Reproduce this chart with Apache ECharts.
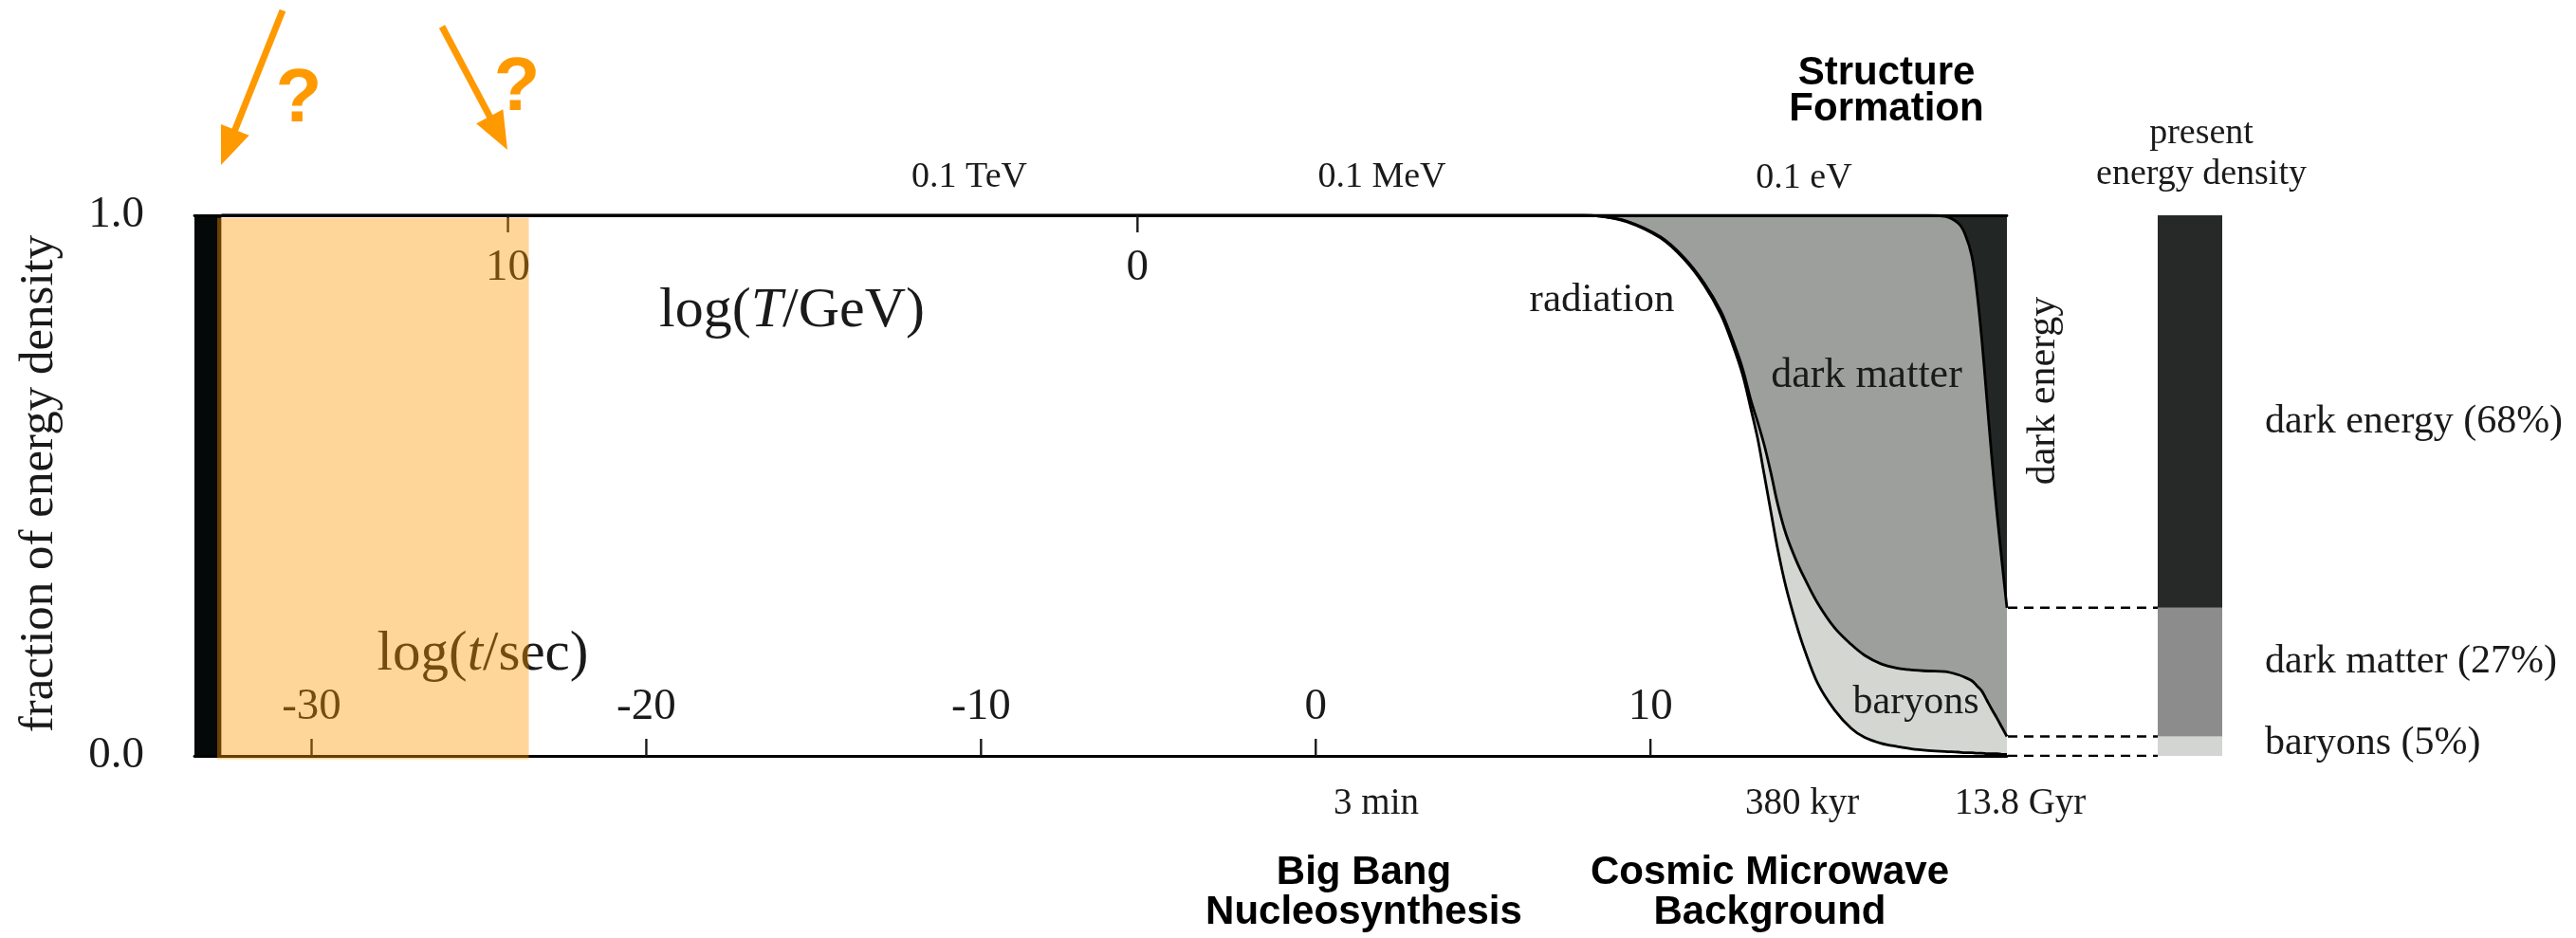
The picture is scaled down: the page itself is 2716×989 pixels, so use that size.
<!DOCTYPE html>
<html><head><meta charset="utf-8">
<script src="https://cdn.jsdelivr.net/npm/echarts@6/dist/echarts.min.js"></script>
<style>html,body{margin:0;padding:0;background:#fff}#c{width:2716px;height:989px}</style>
</head><body><div id="c"></div>
<script>
// ---- data ----
const logTime = [-32.69, 8.0, 8.4, 9.3, 10.3, 11.0, 11.6, 12.1, 12.45, 12.75, 13.0, 13.2, 13.4, 13.6, 13.8, 14.05, 14.35, 14.6, 15.0, 15.5, 16.0, 16.4, 16.9, 17.4, 17.8, 18.3, 18.8, 19.2, 19.4, 19.6, 19.75, 19.9, 20.05, 20.2, 20.35, 20.5, 20.65];
const radiation = [1, 1, 0.999, 0.988, 0.958, 0.919, 0.871, 0.817, 0.762, 0.706, 0.642, 0.588, 0.520, 0.451, 0.383, 0.312, 0.245, 0.197, 0.134, 0.085, 0.051, 0.034, 0.023, 0.017, 0.013, 0.010, 0.008, 0.007, 0.006, 0.006, 0.005, 0.005, 0.004, 0.004, 0.004, 0.003, 0.003];
const baryons = [0, 0, 0, 0.001, 0.002, 0.003, 0.004, 0.006, 0.008, 0.011, 0.016, 0.030, 0.055, 0.072, 0.083, 0.098, 0.117, 0.132, 0.148, 0.152, 0.155, 0.152, 0.147, 0.145, 0.146, 0.147, 0.148, 0.143, 0.139, 0.133, 0.125, 0.115, 0.099, 0.082, 0.066, 0.050, 0.033];
const darkMatter = [0, 0, 0.001, 0.011, 0.040, 0.078, 0.125, 0.177, 0.230, 0.283, 0.342, 0.382, 0.425, 0.477, 0.534, 0.590, 0.638, 0.671, 0.718, 0.763, 0.794, 0.814, 0.830, 0.838, 0.841, 0.843, 0.842, 0.835, 0.820, 0.786, 0.730, 0.650, 0.557, 0.464, 0.380, 0.307, 0.238];
const darkEnergy = [0, 0, 0, 0, 0, 0, 0, 0, 0, 0, 0, 0, 0, 0, 0, 0, 0, 0, 0, 0, 0, 0, 0, 0, 0, 0, 0.002, 0.015, 0.035, 0.075, 0.14, 0.23, 0.34, 0.45, 0.55, 0.64, 0.726];
const timeTicks = [-30, -20, -10, 0, 10];
const tempTicks = [10, 0];
const presentCategory = ['present'];
const presentBaryons = [0.036];
const presentDarkMatter = [0.238];
const presentDarkEnergy = [0.726];
const inflationEra = [-33.5, -32.69];
const unknownEra = [-32.82, -23.51];

// ---- chart ----
const serif = 'Liberation Serif';
const sans = 'Liberation Sans';
const ink = '#1a1a1a';
// value first so that the stack is applied to the y dimension
const pairs = arr => logTime.map((t, i) => [arr[i], t]);
const area = (name, arr, fill, lw, extra) => Object.assign({
  type: 'line', name, stack: 'total', data: pairs(arr), encode: { x: 1, y: 0 },
  xAxisIndex: 0, yAxisIndex: 0,
  symbol: 'none', smooth: 0.35, silent: true, z: 2,
  lineStyle: { color: '#000', width: lw }, areaStyle: { color: fill, opacity: 1 }
}, extra || {});

const cumB = presentBaryons[0];
const cumDM = presentBaryons[0] + presentDarkMatter[0];
const dash = v => ({
  type: 'line', xAxisIndex: 3, yAxisIndex: 2, symbol: 'none', silent: true,
  data: [[0, v], [1, v]], lineStyle: { color: '#000', width: 2.6, type: [10, 7] }
});

const option = {
  animation: false,
  backgroundColor: '#fff',
  grid: [
    { left: 205, right: 600, top: 227, bottom: 192 },
    { left: 2275, right: 373, top: 227, bottom: 192 },
    { left: 2117, right: 441, top: 227, bottom: 192 }
  ],
  xAxis: [
    { type: 'value', gridIndex: 0, position: 'bottom', min: -33.5, max: 20.65, z: 10,
      axisLine: { show: true, onZero: false, lineStyle: { color: '#000', width: 2.8 } },
      axisTick: { show: false },
      axisLabel: { show: true, inside: true, margin: 28, customValues: timeTicks, fontFamily: serif, fontSize: 47, color: ink },
      splitLine: { show: false } },
    { type: 'value', gridIndex: 0, position: 'top', inverse: true, min: -13.81, max: 14.98, z: 10,
      axisLine: { show: true, onZero: false, lineStyle: { color: '#000', width: 2.8 } },
      axisTick: { show: false },
      axisLabel: { show: true, inside: true, margin: 32, customValues: tempTicks, fontFamily: serif, fontSize: 47, color: ink },
      splitLine: { show: false } },
    { type: 'category', gridIndex: 1, data: presentCategory, show: false },
    { type: 'value', gridIndex: 2, min: 0, max: 1, show: false }
  ],
  yAxis: [
    { type: 'value', gridIndex: 0, min: 0, max: 1, interval: 1, z: 10,
      axisLine: { show: false }, axisTick: { show: false }, splitLine: { show: false },
      axisLabel: { margin: 53, fontFamily: serif, fontSize: 47, color: ink, formatter: v => v.toFixed(1) } },
    { type: 'value', gridIndex: 1, min: 0, max: 1, show: false },
    { type: 'value', gridIndex: 2, min: 0, max: 1, show: false }
  ],
  series: [
    area('radiation', radiation, '#ffffff', 2.8, {
      markArea: { silent: true, itemStyle: { color: '#050808' },
        data: [[{ xAxis: inflationEra[0] }, { xAxis: inflationEra[1] }]] }
    }),
    area('baryons', baryons, '#d3d6d1', 2.8),
    area('dark matter', darkMatter, '#9c9f9b', 2.8),
    area('dark energy', darkEnergy, '#222625', 0),
    { type: 'bar', xAxisIndex: 2, yAxisIndex: 1, stack: 'now', data: presentBaryons, barWidth: '100%', itemStyle: { color: '#d3d5d2' }, silent: true },
    { type: 'bar', xAxisIndex: 2, yAxisIndex: 1, stack: 'now', data: presentDarkMatter, barWidth: '100%', itemStyle: { color: '#8b8c8b' }, silent: true },
    { type: 'bar', xAxisIndex: 2, yAxisIndex: 1, stack: 'now', data: presentDarkEnergy, barWidth: '100%', itemStyle: { color: '#272928' }, silent: true },
    dash(0), dash(cumB), dash(cumDM)
  ]
};

const chart = echarts.init(document.getElementById('c'));
chart.setOption(option);

const toPx = (xi, v, f) => chart.convertToPixel({ xAxisIndex: xi, yAxisIndex: 0 }, [v, f]);
const a = toPx(0, unknownEra[0], 0.995);
const b = toPx(0, unknownEra[1], -0.006);

function txt(x, y, text, size, opts) {
  opts = opts || {};
  return {
    type: 'text', x, y, z: opts.z || 20, rotation: opts.rotation || 0, silent: true,
    style: Object.assign({
      text, fill: opts.fill || ink, fontSize: size, fontFamily: opts.family || serif,
      fontWeight: opts.weight || 'normal', align: opts.align || 'center', verticalAlign: 'middle',
      lineHeight: opts.lineHeight
    }, opts.rich ? { rich: opts.rich } : {})
  };
}
function arrow(tail, tip, color) {
  const dx = tip[0] - tail[0], dy = tip[1] - tail[1];
  const L = Math.hypot(dx, dy), ux = dx / L, uy = dy / L;
  const hl = 40, hw = 16;
  const bx = tip[0] - ux * hl, by = tip[1] - uy * hl;
  return [
    { type: 'polyline', z: 20, silent: true, shape: { points: [tail, [bx + ux * 4, by + uy * 4]] }, style: { stroke: color, lineWidth: 7 } },
    { type: 'polygon', z: 20, silent: true, shape: { points: [tip, [bx - uy * hw, by + ux * hw], [bx + uy * hw, by - ux * hw]] }, style: { fill: color } }
  ];
}
// tick marks drawn through the axis scales, pointing into the plot
const tickLen = 18;
const ticks = [];
timeTicks.forEach(v => {
  const p = toPx(0, v, 0);
  ticks.push({ type: 'line', z: 15, silent: true, shape: { x1: p[0], y1: p[1], x2: p[0], y2: p[1] - tickLen }, style: { stroke: ink, lineWidth: 2.4 } });
});
tempTicks.forEach(v => {
  const p = toPx(1, v, 1);
  ticks.push({ type: 'line', z: 15, silent: true, shape: { x1: p[0], y1: p[1], x2: p[0], y2: p[1] + tickLen }, style: { stroke: ink, lineWidth: 2.4 } });
});

const orange = '#ff9900';
const italic = size => ({ i: { fontStyle: 'italic', fontSize: size, fontFamily: serif, fill: ink } });

const graphics = [
  { type: 'rect', z: 100, silent: true, shape: { x: a[0], y: a[1], width: b[0] - a[0], height: b[1] - a[1] }, style: { fill: 'rgba(255,153,0,0.4)' } },
  txt(42, 510, 'fraction of energy density', 51, { rotation: Math.PI / 2 }),
  txt(835, 328, 'log({i|T}/GeV)', 60, { rich: italic(60) }),
  txt(509, 690, 'log({i|t}/sec)', 59, { rich: italic(59) }),
  txt(1022, 187, '0.1 TeV', 38),
  txt(1457, 187, '0.1 MeV', 38),
  txt(1902, 188, '0.1 eV', 38),
  txt(1451, 848, '3 min', 39),
  txt(1900, 848, '380 kyr', 39),
  txt(2130, 848, '13.8 Gyr', 39),
  txt(1989, 96, 'Structure\nFormation', 42, { family: sans, weight: 'bold', fill: '#000', lineHeight: 38 }),
  txt(1438, 941, 'Big Bang\nNucleosynthesis', 42, { family: sans, weight: 'bold', fill: '#000', lineHeight: 42 }),
  txt(1866, 941, 'Cosmic Microwave\nBackground', 42, { family: sans, weight: 'bold', fill: '#000', lineHeight: 42 }),
  txt(1689, 317, 'radiation', 43),
  txt(1968, 396, 'dark matter', 44),
  txt(2020, 741, 'baryons', 42),
  txt(2155, 412, 'dark energy', 42, { rotation: Math.PI / 2 }),
  txt(2321, 163, 'present\nenergy density', 38, { lineHeight: 43 }),
  txt(2388, 445, 'dark energy (68%)', 42, { align: 'left' }),
  txt(2388, 698, 'dark matter (27%)', 42, { align: 'left' }),
  txt(2388, 784, 'baryons (5%)', 42, { align: 'left' }),
  txt(315, 106, '?', 80, { family: sans, weight: 'bold', fill: orange }),
  txt(545, 94, '?', 80, { family: sans, weight: 'bold', fill: orange })
].concat(ticks, arrow([298, 11], [233, 174], orange), arrow([466, 28], [535, 158], orange));

chart.setOption({ graphic: graphics });
</script>
</body></html>
